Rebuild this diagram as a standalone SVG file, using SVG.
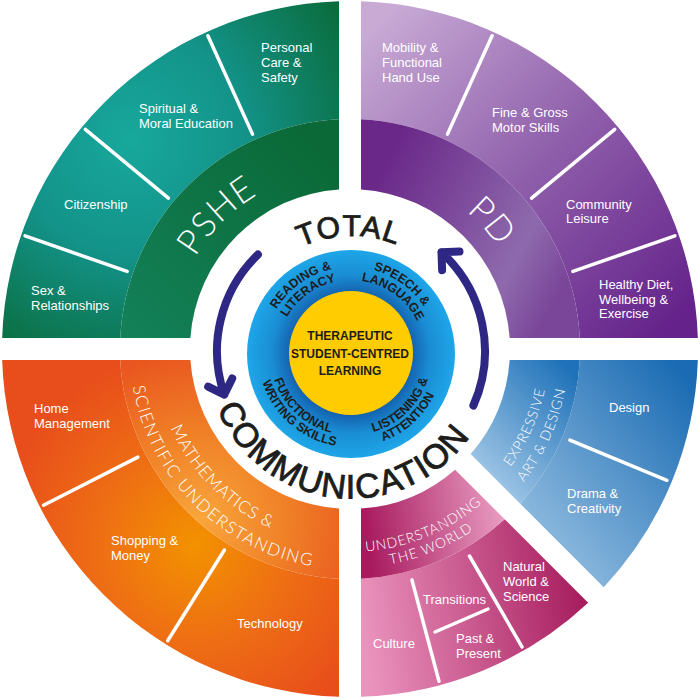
<svg xmlns="http://www.w3.org/2000/svg" width="700" height="700" viewBox="0 0 700 700">
<style>
.lbl{font-family:"Liberation Sans",Arial,sans-serif;font-size:13px;fill:#fff}
.ttl{font-family:Lato,"Open Sans",sans-serif;font-weight:300;fill:#fff}
.ring{font-family:"Liberation Sans",Arial,sans-serif;font-weight:700;font-size:12.5px;fill:#1d1d1b}
.core{font-family:"Liberation Sans",Arial,sans-serif;font-weight:700;font-size:12px;fill:#1d1d1b;text-anchor:middle}
.big{font-family:"Liberation Sans",Arial,sans-serif;font-weight:400;fill:#1d1d1b;stroke:#1d1d1b;stroke-width:0.9}
.div{stroke:#fff;stroke-width:3.5;stroke-linecap:round;fill:none}
.arrow{fill:none;stroke:#2e2884;stroke-width:8;stroke-linecap:round;stroke-linejoin:round}
</style>
<defs>
<radialGradient id="gPsheO" gradientUnits="userSpaceOnUse" cx="130" cy="140" r="250">
<stop offset="0" stop-color="#18a89c"/><stop offset="0.45" stop-color="#13938a"/><stop offset="1" stop-color="#0a6b3a"/>
</radialGradient>
<linearGradient id="gPsheI" gradientUnits="userSpaceOnUse" x1="140" y1="340" x2="330" y2="150">
<stop offset="0" stop-color="#138058"/><stop offset="1" stop-color="#0a6936"/>
</linearGradient>
<linearGradient id="gPdO" gradientUnits="userSpaceOnUse" x1="380" y1="20" x2="680" y2="320">
<stop offset="0" stop-color="#c8aad5"/><stop offset="0.5" stop-color="#8f5fab"/><stop offset="1" stop-color="#64228a"/>
</linearGradient>
<linearGradient id="gPdI" gradientUnits="userSpaceOnUse" x1="370" y1="190" x2="560" y2="290">
<stop offset="0" stop-color="#6a2889"/><stop offset="0.75" stop-color="#8e6aad"/><stop offset="1" stop-color="#7a4699"/>
</linearGradient>
<radialGradient id="gMaO" gradientUnits="userSpaceOnUse" cx="195" cy="545" r="195">
<stop offset="0" stop-color="#f39200"/><stop offset="0.5" stop-color="#ee6e14"/><stop offset="1" stop-color="#e84e1b"/>
</radialGradient>
<radialGradient id="gMaI" gradientUnits="userSpaceOnUse" cx="200" cy="520" r="170">
<stop offset="0" stop-color="#f8a63c"/><stop offset="0.5" stop-color="#f08127"/><stop offset="1" stop-color="#e9561f"/>
</radialGradient>
<linearGradient id="gUtO" gradientUnits="userSpaceOnUse" x1="365" y1="640" x2="590" y2="610">
<stop offset="0" stop-color="#ea93bd"/><stop offset="1" stop-color="#a51a5c"/>
</linearGradient>
<linearGradient id="gUtI" gradientUnits="userSpaceOnUse" x1="365" y1="530" x2="500" y2="510">
<stop offset="0" stop-color="#a81a5e"/><stop offset="1" stop-color="#e79ac0"/>
</linearGradient>
<linearGradient id="gEaO" gradientUnits="userSpaceOnUse" x1="480" y1="560" x2="690" y2="380">
<stop offset="0" stop-color="#accfea"/><stop offset="1" stop-color="#1a6bb3"/>
</linearGradient>
<linearGradient id="gEaI" gradientUnits="userSpaceOnUse" x1="470" y1="470" x2="570" y2="370">
<stop offset="0" stop-color="#a4c9e7"/><stop offset="1" stop-color="#1f72b9"/>
</linearGradient>
<radialGradient id="gBlue" gradientUnits="userSpaceOnUse" cx="351" cy="354" r="104">
<stop offset="0.58" stop-color="#1460ad"/><stop offset="0.76" stop-color="#1a8dd4"/><stop offset="1" stop-color="#1ea6e8"/>
</radialGradient>
<path id="pPshe" d="M 170,349 A 180 180 0 0 1 350,169"/>
<path id="pPd" d="M 368.8,170 A 180 180 0 0 1 530,349"/>
<path id="pMa1" d="M 154,349 A 196 196 0 0 0 350,545"/>
<path id="pMa2" d="M 129.5,349 A 220.5 220.5 0 0 0 350,569.5"/>
<path id="pEa1" d="M 483.2,496.9 A 199 199 0 0 0 549,349"/>
<path id="pEa2" d="M 496.5,511.7 A 219 219 0 0 0 569,349"/>
<path id="pUt1" d="M 350,552 A 203 203 0 0 0 493.5,492.5"/>
<path id="pUt2" d="M 350,568 A 219 219 0 0 0 504.9,503.9"/>
<path id="pR1" d="M 267.4,378 A 87 87 0 0 1 399.7,281.9"/>
<path id="pR2" d="M 279.9,374.4 A 74 74 0 0 1 392.4,292.7"/>
<path id="pS1" d="M 302.3,281.9 A 87 87 0 0 1 434.6,378"/>
<path id="pS2" d="M 309.6,292.7 A 74 74 0 0 1 422.1,374.4"/>
<path id="pF1" d="M 276.4,322.4 A 81 81 0 0 0 387.8,426.2"/>
<path id="pF2" d="M 264.2,320.7 A 93 93 0 0 0 396.1,435.3"/>
<path id="pL1" d="M 315.5,426.8 A 81 81 0 0 0 425,321.1"/>
<path id="pL2" d="M 307.3,436.1 A 93 93 0 0 0 437.2,319.2"/>
<path id="pTotal" d="M 233,356.1 A 118 118 0 0 1 469,351.9"/>
<path id="pComm" d="M 206.8,338.8 A 145 145 0 0 0 495.2,369.2"/>
</defs>
<rect width="700" height="700" fill="#fff"/>

<g id="pshe">
<path d="M 2.17,338 A 348 348 0 0 1 339,1.17 L 339,119.26 A 230 230 0 0 0 120.26,338 Z" fill="url(#gPsheO)"/>
<path d="M 120.26,338 A 230 230 0 0 1 339,119.26 L 339,189.38 A 160 160 0 0 0 190.38,338 Z" fill="url(#gPsheI)"/>
<line class="div" x1="127.1" y1="271.4" x2="25.1" y2="235.9"/>
<line class="div" x1="168.4" y1="198.2" x2="85.3" y2="129.3"/>
<line class="div" x1="252.5" y1="134.1" x2="207.9" y2="35.7"/>
<text class="ttl" font-size="35" letter-spacing="1"><textPath href="#pPshe" startOffset="50%" text-anchor="middle">PSHE</textPath></text>
<text class="lbl" x="261" y="52">Personal</text>
<text class="lbl" x="261" y="67">Care &amp;</text>
<text class="lbl" x="261" y="82">Safety</text>
<text class="lbl" x="139" y="113">Spiritual &amp;</text>
<text class="lbl" x="139" y="128">Moral Education</text>
<text class="lbl" x="64" y="209">Citizenship</text>
<text class="lbl" x="31" y="295">Sex &amp;</text>
<text class="lbl" x="31" y="310">Relationships</text>
</g>

<g id="pd">
<path d="M 361,1.17 A 348 348 0 0 1 697.83,338 L 579.74,338 A 230 230 0 0 0 361,119.26 Z" fill="url(#gPdO)"/>
<path d="M 361,119.26 A 230 230 0 0 1 579.74,338 L 509.62,338 A 160 160 0 0 0 361,189.38 Z" fill="url(#gPdI)"/>
<line class="div" x1="447.5" y1="134.1" x2="492.1" y2="35.7"/>
<line class="div" x1="531.6" y1="198.2" x2="614.7" y2="129.3"/>
<line class="div" x1="572.9" y1="271.4" x2="674.9" y2="235.9"/>
<text class="ttl" font-size="35" letter-spacing="1"><textPath href="#pPd" startOffset="50%" text-anchor="middle">PD</textPath></text>
<text class="lbl" x="382" y="52">Mobility &amp;</text>
<text class="lbl" x="382" y="67">Functional</text>
<text class="lbl" x="382" y="82">Hand Use</text>
<text class="lbl" x="492" y="117">Fine &amp; Gross</text>
<text class="lbl" x="492" y="132">Motor Skills</text>
<text class="lbl" x="566" y="209">Community</text>
<text class="lbl" x="566" y="223">Leisure</text>
<text class="lbl" x="599" y="289">Healthy Diet,</text>
<text class="lbl" x="599" y="304">Wellbeing &amp;</text>
<text class="lbl" x="599" y="318">Exercise</text>
</g>

<g id="maths">
<path d="M 2.17,360 L 120.26,360 A 230 230 0 0 0 339,578.74 L 339,696.83 A 348 348 0 0 1 2.17,360 Z" fill="url(#gMaO)"/>
<path d="M 120.26,360 L 190.38,360 A 160 160 0 0 0 339,508.62 L 339,578.74 A 230 230 0 0 1 120.26,360 Z" fill="url(#gMaI)"/>
<line class="div" x1="137.9" y1="457.1" x2="43.5" y2="505.2"/>
<line class="div" x1="224.4" y1="550" x2="167.7" y2="640.7"/>
<text class="ttl" font-size="17" letter-spacing="0.8"><textPath href="#pMa1" startOffset="50%" text-anchor="middle">MATHEMATICS &amp;</textPath></text>
<text class="ttl" font-size="17" letter-spacing="1.5"><textPath href="#pMa2" startOffset="50%" text-anchor="middle">SCIENTIFIC UNDERSTANDING</textPath></text>
<text class="lbl" x="34" y="413">Home</text>
<text class="lbl" x="34" y="428">Management</text>
<text class="lbl" x="111" y="545">Shopping &amp;</text>
<text class="lbl" x="111" y="560">Money</text>
<text class="lbl" x="237" y="628">Technology</text>
</g>

<g id="understanding-world">
<path d="M 361,578.74 L 361,696.83 A 348 348 0 0 0 588.17,602.73 L 504.67,519.23 A 230 230 0 0 1 361,578.74 Z" fill="url(#gUtO)"/>
<path d="M 361,508.62 L 361,578.74 A 230 230 0 0 0 504.67,519.23 L 455.09,469.65 A 160 160 0 0 1 361,508.62 Z" fill="url(#gUtI)"/>
<line class="div" x1="411.9" y1="579.9" x2="439" y2="681.3"/>
<line class="div" x1="469.5" y1="556" x2="522" y2="646.9"/>
<line class="div" x1="435" y1="632" x2="488" y2="609"/>
<text class="ttl" font-size="14" letter-spacing="0.8"><textPath href="#pUt1" startOffset="50%" text-anchor="middle">UNDERSTANDING</textPath></text>
<text class="ttl" font-size="14" letter-spacing="1"><textPath href="#pUt2" startOffset="50%" text-anchor="middle">THE WORLD</textPath></text>
<text class="lbl" x="373" y="648">Culture</text>
<text class="lbl" x="423" y="604">Transitions</text>
<text class="lbl" x="456" y="643">Past &amp;</text>
<text class="lbl" x="456" y="658">Present</text>
<text class="lbl" x="503" y="571">Natural</text>
<text class="lbl" x="503" y="586">World &amp;</text>
<text class="lbl" x="503" y="601">Science</text>
</g>

<g id="expressive-art">
<path d="M 579.74,360 L 697.83,360 A 348 348 0 0 1 603.73,587.17 L 520.23,503.67 A 230 230 0 0 0 579.74,360 Z" fill="url(#gEaO)"/>
<path d="M 509.62,360 L 579.74,360 A 230 230 0 0 1 520.23,503.67 L 470.65,454.09 A 160 160 0 0 0 509.62,360 Z" fill="url(#gEaI)"/>
<line class="div" x1="569.9" y1="440.1" x2="666.9" y2="480.3"/>
<text class="ttl" font-size="14" letter-spacing="0.8"><textPath href="#pEa1" startOffset="50%" text-anchor="middle">EXPRESSIVE</textPath></text>
<text class="ttl" font-size="14" letter-spacing="0.8"><textPath href="#pEa2" startOffset="50%" text-anchor="middle">ART &amp; DESIGN</textPath></text>
<text class="lbl" x="609" y="412">Design</text>
<text class="lbl" x="567" y="498">Drama &amp;</text>
<text class="lbl" x="567" y="513">Creativity</text>
</g>

<g id="communication-ring">
<circle cx="351" cy="354" r="104" fill="url(#gBlue)"/>
<text class="ring"><textPath href="#pR1" startOffset="50%" text-anchor="middle">READING &amp;</textPath></text>
<text class="ring"><textPath href="#pR2" startOffset="50%" text-anchor="middle">LITERACY</textPath></text>
<text class="ring"><textPath href="#pS1" startOffset="50%" text-anchor="middle">SPEECH &amp;</textPath></text>
<text class="ring"><textPath href="#pS2" startOffset="50%" text-anchor="middle">LANGUAGE</textPath></text>
<text class="ring"><textPath href="#pF1" startOffset="50%" text-anchor="middle">FUNCTIONAL</textPath></text>
<text class="ring"><textPath href="#pF2" startOffset="50%" text-anchor="middle">WRITING SKILLS</textPath></text>
<text class="ring"><textPath href="#pL1" startOffset="50%" text-anchor="middle">LISTENING &amp;</textPath></text>
<text class="ring"><textPath href="#pL2" startOffset="50%" text-anchor="middle">ATTENTION</textPath></text>
</g>

<g id="core">
<circle cx="351" cy="353" r="62" fill="#fecc00"/>
<text class="core" x="350" y="340">THERAPEUTIC</text>
<text class="core" x="350" y="358">STUDENT-CENTRED</text>
<text class="core" x="350" y="375">LEARNING</text>
</g>

<g id="total-communication">
<text class="big" font-size="30" letter-spacing="1"><textPath href="#pTotal" startOffset="50%" text-anchor="middle">TOTAL</textPath></text>
<text class="big" font-size="34" letter-spacing="1.5"><textPath href="#pComm" startOffset="50%" text-anchor="middle">COMMUNICATION</textPath></text>
</g>

<g id="connectors">
<path class="arrow" d="M 257.9,254.6 A 134 134 0 0 0 224.3,394.6 M 232.2,378.4 L 224.3,394.6 L 208.1,386.7"/>
<path class="arrow" d="M 473.4,405.5 A 134 134 0 0 0 441.5,252.2 M 442.1,270.2 L 441.5,252.2 L 459.5,251.6"/>
</g>
</svg>
